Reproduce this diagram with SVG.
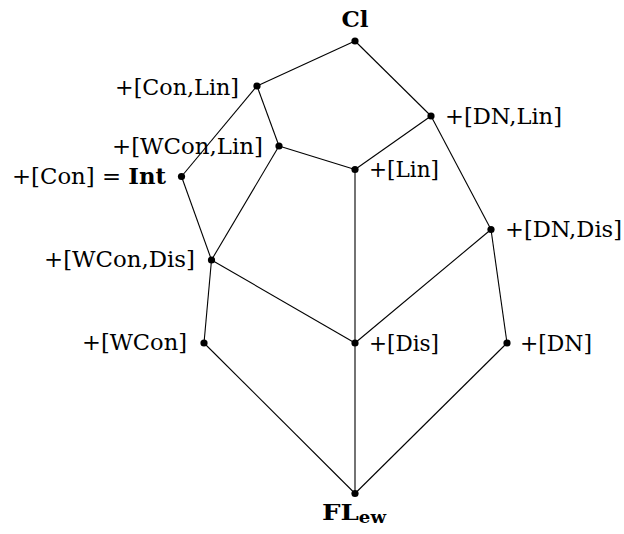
<svg xmlns="http://www.w3.org/2000/svg" width="624" height="534" viewBox="0 0 624 534">
<style>
.e{stroke:#000;stroke-width:1.1;fill:none}
.d{fill:#000}
.t{font-family:'DejaVu Serif','Liberation Serif',serif;font-size:23px;fill:#000}
.b{font-weight:bold}
</style>
<rect width="624" height="534" fill="#fff"/>
<g id="connectors">
<line class="e" x1="355" y1="41" x2="257" y2="86"/>
<line class="e" x1="355" y1="41" x2="431" y2="116"/>
<line class="e" x1="257" y1="86" x2="279" y2="146"/>
<line class="e" x1="257" y1="86" x2="181.5" y2="176.5"/>
<line class="e" x1="431" y1="116" x2="355" y2="169.5"/>
<line class="e" x1="431" y1="116" x2="491" y2="229.5"/>
<line class="e" x1="279" y1="146" x2="355" y2="169.5"/>
<line class="e" x1="279" y1="146" x2="211.5" y2="260"/>
<line class="e" x1="181.5" y1="176.5" x2="211.5" y2="260"/>
<line class="e" x1="355" y1="169.5" x2="355" y2="343"/>
<line class="e" x1="211.5" y1="260" x2="355" y2="343"/>
<line class="e" x1="211.5" y1="260" x2="204" y2="343"/>
<line class="e" x1="491" y1="229.5" x2="355" y2="343"/>
<line class="e" x1="491" y1="229.5" x2="507" y2="343"/>
<line class="e" x1="204" y1="343" x2="355" y2="493.5"/>
<line class="e" x1="355" y1="343" x2="355" y2="493.5"/>
<line class="e" x1="507" y1="343" x2="355" y2="493.5"/>
</g>
<g id="n-cl"><circle class="d" cx="355" cy="41" r="3.6"/><text class="t b" x="355" y="27" text-anchor="middle">Cl</text></g>
<g id="n-conlin"><circle class="d" cx="257" cy="86" r="3.6"/><text class="t" x="115" y="95" textLength="124" lengthAdjust="spacingAndGlyphs">+[Con,Lin]</text></g>
<g id="n-dnlin"><circle class="d" cx="431" cy="116" r="3.6"/><text class="t" x="445" y="124" textLength="117" lengthAdjust="spacingAndGlyphs">+[DN,Lin]</text></g>
<g id="n-wconlin"><circle class="d" cx="279" cy="146" r="3.6"/><text class="t" x="112" y="154" textLength="151" lengthAdjust="spacingAndGlyphs">+[WCon,Lin]</text></g>
<g id="n-int"><circle class="d" cx="181.5" cy="176.5" r="3.6"/><text class="t" x="12" y="184" textLength="154" lengthAdjust="spacingAndGlyphs">+[Con] = <tspan class="b">Int</tspan></text></g>
<g id="n-lin"><circle class="d" cx="355" cy="169.5" r="3.6"/><text class="t" x="369" y="177" textLength="70" lengthAdjust="spacingAndGlyphs">+[Lin]</text></g>
<g id="n-dndis"><circle class="d" cx="491" cy="229.5" r="3.6"/><text class="t" x="505" y="237" textLength="117" lengthAdjust="spacingAndGlyphs">+[DN,Dis]</text></g>
<g id="n-wcondis"><circle class="d" cx="211.5" cy="260" r="3.6"/><text class="t" x="44" y="267" textLength="151" lengthAdjust="spacingAndGlyphs">+[WCon,Dis]</text></g>
<g id="n-wcon"><circle class="d" cx="204" cy="343" r="3.6"/><text class="t" x="82" y="350" textLength="105" lengthAdjust="spacingAndGlyphs">+[WCon]</text></g>
<g id="n-dis"><circle class="d" cx="355" cy="343" r="3.6"/><text class="t" x="369" y="351" textLength="70" lengthAdjust="spacingAndGlyphs">+[Dis]</text></g>
<g id="n-dn"><circle class="d" cx="507" cy="343" r="3.6"/><text class="t" x="520" y="351" textLength="72" lengthAdjust="spacingAndGlyphs">+[DN]</text></g>
<g id="n-flew"><circle class="d" cx="355" cy="493.5" r="3.6"/><text class="t b" x="322" y="520" textLength="64" lengthAdjust="spacingAndGlyphs">FL<tspan font-size="16" dy="3">ew</tspan></text></g>
</svg>
